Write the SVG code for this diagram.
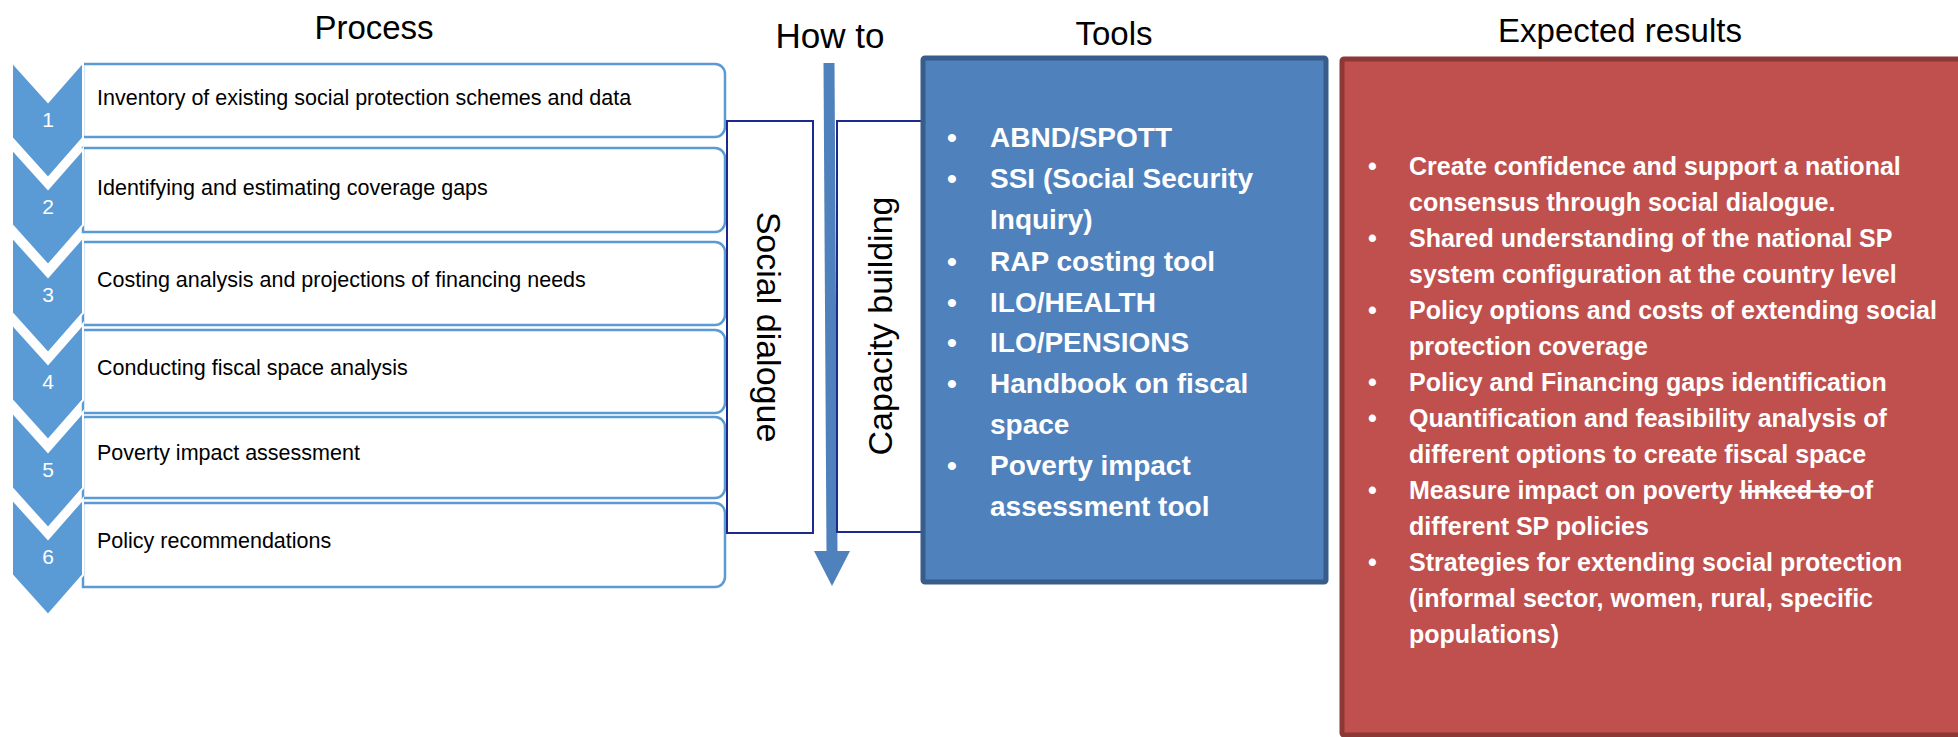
<svg xmlns="http://www.w3.org/2000/svg" width="1958" height="737" viewBox="0 0 1958 737">
<defs>
<style>
.title{font-family:"Liberation Sans",Arial,sans-serif;font-size:33px;fill:#000;text-anchor:middle}
.box{fill:#fff;stroke:#5b9bd5;stroke-width:2.5}
.chev{fill:#5b9bd5;stroke:#fff;stroke-width:2}
.num{font-family:"Liberation Sans",Arial,sans-serif;font-size:21px;fill:#fff;text-anchor:middle}
.step{font-family:"Liberation Sans",Arial,sans-serif;font-size:21.5px;fill:#000}
.vbox{fill:#fff;stroke:#1c2a8e;stroke-width:2}
.vtext{font-family:"Liberation Sans",Arial,sans-serif;font-size:34px;fill:#000;text-anchor:middle}
.tools{fill:#4f81bd;stroke:#385d8a;stroke-width:5}
.results{fill:#c0504d;stroke:#8c3836;stroke-width:5}
.tt{font-family:"Liberation Sans",Arial,sans-serif;font-size:28px;font-weight:bold;fill:#fff}
.rt{font-family:"Liberation Sans",Arial,sans-serif;font-size:25px;font-weight:bold;fill:#fff}
.strike{text-decoration:line-through}
</style>
</defs>
<rect width="1958" height="737" fill="#fff"/>

<g id="titles">
<text class="title" x="374" y="39">Process</text>
<text class="title" x="830" y="48" style="font-size:35px">How to</text>
<text class="title" x="1114" y="45">Tools</text>
<text class="title" x="1620" y="42">Expected results</text>
</g>

<g id="step1">
<path class="box" d="M83,64 H715 A10,10 0 0 1 725,74 V127 A10,10 0 0 1 715,137 H83 Z"/>
<path class="chev" d="M12,62 L48,102 L83,62 L83,138 L48,178 L12,138 Z"/>
<text class="num" x="48" y="127">1</text>
<text class="step" x="97" y="105">Inventory of existing social protection schemes and data</text>
</g>
<g id="step2">
<path class="box" d="M83,148 H715 A10,10 0 0 1 725,158 V222 A10,10 0 0 1 715,232 H83 Z"/>
<path class="chev" d="M12,149 L48,189 L83,149 L83,225 L48,265 L12,225 Z"/>
<text class="num" x="48" y="214">2</text>
<text class="step" x="97" y="195">Identifying and estimating coverage gaps</text>
</g>
<g id="step3">
<path class="box" d="M83,242 H715 A10,10 0 0 1 725,252 V315 A10,10 0 0 1 715,325 H83 Z"/>
<path class="chev" d="M12,237 L48,277 L83,237 L83,313 L48,353 L12,313 Z"/>
<text class="num" x="48" y="302">3</text>
<text class="step" x="97" y="287">Costing analysis and projections of financing needs</text>
</g>
<g id="step4">
<path class="box" d="M83,330 H715 A10,10 0 0 1 725,340 V403 A10,10 0 0 1 715,413 H83 Z"/>
<path class="chev" d="M12,324 L48,364 L83,324 L83,400 L48,440 L12,400 Z"/>
<text class="num" x="48" y="389">4</text>
<text class="step" x="97" y="375">Conducting fiscal space analysis</text>
</g>
<g id="step5">
<path class="box" d="M83,417 H715 A10,10 0 0 1 725,427 V488 A10,10 0 0 1 715,498 H83 Z"/>
<path class="chev" d="M12,412 L48,452 L83,412 L83,488 L48,528 L12,488 Z"/>
<text class="num" x="48" y="477">5</text>
<text class="step" x="97" y="460">Poverty impact assessment</text>
</g>
<g id="step6">
<path class="box" d="M83,503 H715 A10,10 0 0 1 725,513 V577 A10,10 0 0 1 715,587 H83 Z"/>
<path class="chev" d="M12,499 L48,539 L83,499 L83,575 L48,615 L12,575 Z"/>
<text class="num" x="48" y="564">6</text>
<text class="step" x="97" y="548">Policy recommendations</text>
</g>

<g id="social-dialogue">
<rect class="vbox" x="727" y="121" width="86" height="412"/>
<text class="vtext" transform="translate(757,327) rotate(90)">Social dialogue</text>
</g>

<g id="connectors">
<line x1="829" y1="63" x2="832" y2="553" stroke="#4f81bd" stroke-width="11"/>
<polygon points="814,551 850,551 832,586" fill="#4f81bd"/>
</g>

<g id="capacity-building">
<rect class="vbox" x="837" y="121" width="85" height="411"/>
<text class="vtext" transform="translate(892,326) rotate(-90)">Capacity building</text>
</g>

<g id="tools">
<rect class="tools" x="923" y="58" width="403" height="524" rx="2"/>
<g class="tt">
<text x="947" y="147">•</text><text x="990" y="147">ABND/SPOTT</text>
<text x="947" y="188">•</text><text x="990" y="188">SSI (Social Security</text>
<text x="990" y="229">Inquiry)</text>
<text x="947" y="271">•</text><text x="990" y="271">RAP costing tool</text>
<text x="947" y="312">•</text><text x="990" y="312">ILO/HEALTH</text>
<text x="947" y="352">•</text><text x="990" y="352">ILO/PENSIONS</text>
<text x="947" y="393">•</text><text x="990" y="393">Handbook on fiscal</text>
<text x="990" y="434">space</text>
<text x="947" y="475">•</text><text x="990" y="475">Poverty impact</text>
<text x="990" y="516">assessment tool</text>
</g>
</g>

<g id="expected-results">
<rect class="results" x="1342" y="59" width="640" height="676" rx="2"/>
<g class="rt">
<text x="1368" y="175">•</text><text x="1409" y="175">Create confidence and support a national</text>
<text x="1409" y="211">consensus through social dialogue.</text>
<text x="1368" y="247">•</text><text x="1409" y="247">Shared understanding of the national SP</text>
<text x="1409" y="283">system configuration at the country level</text>
<text x="1368" y="319">•</text><text x="1409" y="319">Policy options and costs of extending social</text>
<text x="1409" y="355">protection coverage</text>
<text x="1368" y="391">•</text><text x="1409" y="391">Policy and Financing gaps identification</text>
<text x="1368" y="427">•</text><text x="1409" y="427">Quantification and feasibility analysis of</text>
<text x="1409" y="463">different options to create fiscal space</text>
<text x="1368" y="499">•</text><text x="1409" y="499">Measure impact on poverty <tspan class="strike">linked to </tspan>of</text>
<text x="1409" y="535">different SP policies</text>
<text x="1368" y="571">•</text><text x="1409" y="571">Strategies for extending social protection</text>
<text x="1409" y="607">(informal sector, women, rural, specific</text>
<text x="1409" y="643">populations)</text>
</g>
</g>
</svg>
